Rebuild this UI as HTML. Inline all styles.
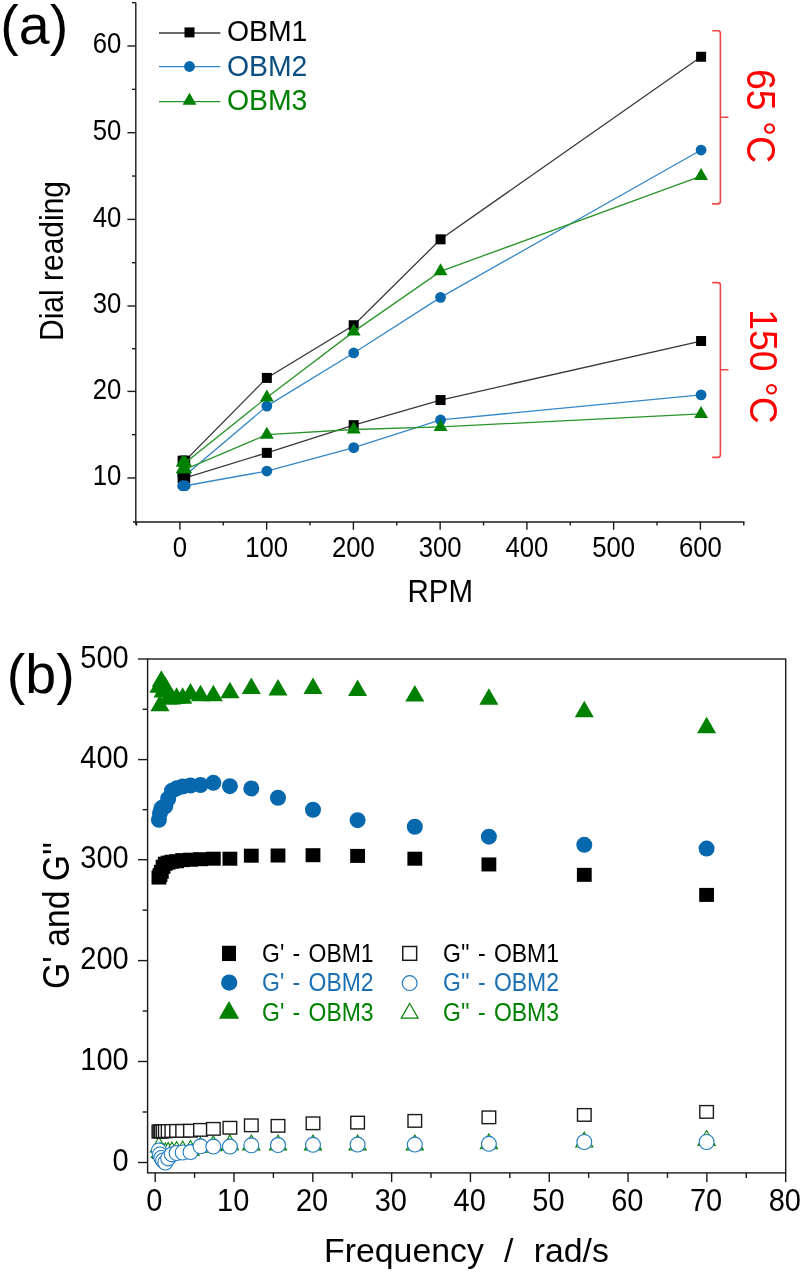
<!DOCTYPE html>
<html><head><meta charset="utf-8"><style>
html,body{margin:0;padding:0;background:#fff;}
body{width:802px;height:1272px;overflow:hidden;}
svg{display:block;font-family:"Liberation Sans", sans-serif;will-change:transform;}
</style></head><body>
<svg width="802" height="1272" viewBox="0 0 802 1272">
<rect width="802" height="1272" fill="#fff"/>
<line x1="135.80" y1="2.55" x2="135.80" y2="524.75" stroke="#1a1a1a" stroke-width="1.4"/>
<line x1="133.03" y1="522.00" x2="744.48" y2="522.00" stroke="#1a1a1a" stroke-width="1.4"/>
<line x1="127.40" y1="477.95" x2="135.80" y2="477.95" stroke="#1a1a1a" stroke-width="1.4"/>
<text transform="translate(121.40,485.15) scale(0.97,1.08)" font-size="26.5" fill="#000" text-anchor="end" >10</text>
<line x1="127.40" y1="391.40" x2="135.80" y2="391.40" stroke="#1a1a1a" stroke-width="1.4"/>
<text transform="translate(121.40,398.60) scale(0.97,1.08)" font-size="26.5" fill="#000" text-anchor="end" >20</text>
<line x1="127.40" y1="306.00" x2="135.80" y2="306.00" stroke="#1a1a1a" stroke-width="1.4"/>
<text transform="translate(121.40,313.20) scale(0.97,1.08)" font-size="26.5" fill="#000" text-anchor="end" >30</text>
<line x1="127.40" y1="219.40" x2="135.80" y2="219.40" stroke="#1a1a1a" stroke-width="1.4"/>
<text transform="translate(121.40,226.60) scale(0.97,1.08)" font-size="26.5" fill="#000" text-anchor="end" >40</text>
<line x1="127.40" y1="132.70" x2="135.80" y2="132.70" stroke="#1a1a1a" stroke-width="1.4"/>
<text transform="translate(121.40,139.90) scale(0.97,1.08)" font-size="26.5" fill="#000" text-anchor="end" >50</text>
<line x1="127.40" y1="46.00" x2="135.80" y2="46.00" stroke="#1a1a1a" stroke-width="1.4"/>
<text transform="translate(121.40,53.20) scale(0.97,1.08)" font-size="26.5" fill="#000" text-anchor="end" >60</text>
<line x1="132.00" y1="434.67" x2="135.80" y2="434.67" stroke="#1a1a1a" stroke-width="1.4"/>
<line x1="132.00" y1="348.70" x2="135.80" y2="348.70" stroke="#1a1a1a" stroke-width="1.4"/>
<line x1="132.00" y1="262.70" x2="135.80" y2="262.70" stroke="#1a1a1a" stroke-width="1.4"/>
<line x1="132.00" y1="176.05" x2="135.80" y2="176.05" stroke="#1a1a1a" stroke-width="1.4"/>
<line x1="132.00" y1="89.35" x2="135.80" y2="89.35" stroke="#1a1a1a" stroke-width="1.4"/>
<line x1="132.00" y1="2.65" x2="135.80" y2="2.65" stroke="#1a1a1a" stroke-width="1.4"/>
<line x1="179.90" y1="522.00" x2="179.90" y2="529.80" stroke="#1a1a1a" stroke-width="1.4"/>
<text transform="translate(179.90,557.20) scale(0.97,1.08)" font-size="26.5" fill="#000" text-anchor="middle" >0</text>
<line x1="266.65" y1="522.00" x2="266.65" y2="529.80" stroke="#1a1a1a" stroke-width="1.4"/>
<text transform="translate(266.65,557.20) scale(0.97,1.08)" font-size="26.5" fill="#000" text-anchor="middle" >100</text>
<line x1="353.40" y1="522.00" x2="353.40" y2="529.80" stroke="#1a1a1a" stroke-width="1.4"/>
<text transform="translate(353.40,557.20) scale(0.97,1.08)" font-size="26.5" fill="#000" text-anchor="middle" >200</text>
<line x1="440.15" y1="522.00" x2="440.15" y2="529.80" stroke="#1a1a1a" stroke-width="1.4"/>
<text transform="translate(440.15,557.20) scale(0.97,1.08)" font-size="26.5" fill="#000" text-anchor="middle" >300</text>
<line x1="526.90" y1="522.00" x2="526.90" y2="529.80" stroke="#1a1a1a" stroke-width="1.4"/>
<text transform="translate(526.90,557.20) scale(0.97,1.08)" font-size="26.5" fill="#000" text-anchor="middle" >400</text>
<line x1="613.65" y1="522.00" x2="613.65" y2="529.80" stroke="#1a1a1a" stroke-width="1.4"/>
<text transform="translate(613.65,557.20) scale(0.97,1.08)" font-size="26.5" fill="#000" text-anchor="middle" >500</text>
<line x1="700.40" y1="522.00" x2="700.40" y2="529.80" stroke="#1a1a1a" stroke-width="1.4"/>
<text transform="translate(700.40,557.20) scale(0.97,1.08)" font-size="26.5" fill="#000" text-anchor="middle" >600</text>
<line x1="136.53" y1="522.00" x2="136.53" y2="525.60" stroke="#1a1a1a" stroke-width="1.4"/>
<line x1="223.28" y1="522.00" x2="223.28" y2="525.60" stroke="#1a1a1a" stroke-width="1.4"/>
<line x1="310.02" y1="522.00" x2="310.02" y2="525.60" stroke="#1a1a1a" stroke-width="1.4"/>
<line x1="396.77" y1="522.00" x2="396.77" y2="525.60" stroke="#1a1a1a" stroke-width="1.4"/>
<line x1="483.52" y1="522.00" x2="483.52" y2="525.60" stroke="#1a1a1a" stroke-width="1.4"/>
<line x1="570.27" y1="522.00" x2="570.27" y2="525.60" stroke="#1a1a1a" stroke-width="1.4"/>
<line x1="657.02" y1="522.00" x2="657.02" y2="525.60" stroke="#1a1a1a" stroke-width="1.4"/>
<line x1="743.77" y1="522.00" x2="743.77" y2="525.60" stroke="#1a1a1a" stroke-width="1.4"/>
<text transform="translate(440.30,601.70) scale(1.0,1.07)" font-size="29.5" fill="#000" text-anchor="middle" >RPM</text>
<text transform="translate(62.80,261.00) rotate(-90) scale(1.0,1.08)" font-size="30" fill="#000" text-anchor="middle" >Dial reading</text>
<text transform="translate(0.30,43.90)" font-size="55.5" fill="#000" text-anchor="start" >(a)</text>
<polyline points="182.61,460.64 185.21,460.64 266.85,377.91 353.70,325.22 440.55,239.32 701.10,56.75" fill="none" stroke="#383838" stroke-width="1.3"/>
<rect x="177.61" y="455.64" width="10.00" height="10.00" fill="#000"/>
<rect x="180.21" y="455.64" width="10.00" height="10.00" fill="#000"/>
<rect x="261.85" y="372.91" width="10.00" height="10.00" fill="#000"/>
<rect x="348.70" y="320.22" width="10.00" height="10.00" fill="#000"/>
<rect x="435.55" y="234.32" width="10.00" height="10.00" fill="#000"/>
<rect x="696.10" y="51.75" width="10.00" height="10.00" fill="#000"/>
<polyline points="182.61,475.35 185.21,475.35 266.85,406.11 353.70,352.97 440.55,297.34 701.10,150.04" fill="none" stroke="#3587c6" stroke-width="1.3"/>
<circle cx="182.61" cy="475.35" r="5.40" fill="#0868ae"/>
<circle cx="185.21" cy="475.35" r="5.40" fill="#0868ae"/>
<circle cx="266.85" cy="406.11" r="5.40" fill="#0868ae"/>
<circle cx="353.70" cy="352.97" r="5.40" fill="#0868ae"/>
<circle cx="440.55" cy="297.34" r="5.40" fill="#0868ae"/>
<circle cx="701.10" cy="150.04" r="5.40" fill="#0868ae"/>
<polyline points="182.61,462.80 185.21,462.80 266.85,397.46 353.70,331.62 440.55,271.36 701.10,176.05" fill="none" stroke="#2a952a" stroke-width="1.3"/>
<polygon points="182.61,454.80 189.53,466.80 175.68,466.80" fill="#008000"/>
<polygon points="185.21,454.80 192.14,466.80 178.28,466.80" fill="#008000"/>
<polygon points="266.85,389.46 273.78,401.46 259.92,401.46" fill="#008000"/>
<polygon points="353.70,323.62 360.63,335.62 346.77,335.62" fill="#008000"/>
<polygon points="440.55,263.36 447.48,275.36 433.62,275.36" fill="#008000"/>
<polygon points="701.10,168.05 708.03,180.05 694.17,180.05" fill="#008000"/>
<polyline points="182.61,477.95 185.21,477.95 266.85,452.85 353.70,425.15 440.55,400.05 701.10,341.01" fill="none" stroke="#383838" stroke-width="1.3"/>
<rect x="177.61" y="472.95" width="10.00" height="10.00" fill="#000"/>
<rect x="180.21" y="472.95" width="10.00" height="10.00" fill="#000"/>
<rect x="261.85" y="447.85" width="10.00" height="10.00" fill="#000"/>
<rect x="348.70" y="420.15" width="10.00" height="10.00" fill="#000"/>
<rect x="435.55" y="395.05" width="10.00" height="10.00" fill="#000"/>
<rect x="696.10" y="336.01" width="10.00" height="10.00" fill="#000"/>
<polyline points="182.61,485.74 185.21,485.74 266.85,471.03 353.70,447.66 440.55,419.96 701.10,394.86" fill="none" stroke="#3587c6" stroke-width="1.3"/>
<circle cx="182.61" cy="485.74" r="5.40" fill="#0868ae"/>
<circle cx="185.21" cy="485.74" r="5.40" fill="#0868ae"/>
<circle cx="266.85" cy="471.03" r="5.40" fill="#0868ae"/>
<circle cx="353.70" cy="447.66" r="5.40" fill="#0868ae"/>
<circle cx="440.55" cy="419.96" r="5.40" fill="#0868ae"/>
<circle cx="701.10" cy="394.86" r="5.40" fill="#0868ae"/>
<polyline points="182.61,469.29 185.21,469.29 266.85,434.67 353.70,429.48 440.55,426.89 701.10,413.90" fill="none" stroke="#2a952a" stroke-width="1.3"/>
<polygon points="182.61,461.29 189.53,473.29 175.68,473.29" fill="#008000"/>
<polygon points="185.21,461.29 192.14,473.29 178.28,473.29" fill="#008000"/>
<polygon points="266.85,426.67 273.78,438.67 259.92,438.67" fill="#008000"/>
<polygon points="353.70,421.48 360.63,433.48 346.77,433.48" fill="#008000"/>
<polygon points="440.55,418.89 447.48,430.89 433.62,430.89" fill="#008000"/>
<polygon points="701.10,405.90 708.03,417.90 694.17,417.90" fill="#008000"/>
<line x1="159.00" y1="33.00" x2="220.30" y2="33.00" stroke="#383838" stroke-width="1.3"/>
<rect x="184.50" y="27.40" width="10.00" height="10.00" fill="#000"/>
<text transform="translate(226.90,41.30) scale(1.0,1.05)" font-size="28.4" fill="#000" text-anchor="start" >OBM1</text>
<line x1="159.00" y1="66.70" x2="220.30" y2="66.70" stroke="#3587c6" stroke-width="1.3"/>
<circle cx="189.50" cy="66.50" r="5.40" fill="#0868ae"/>
<text transform="translate(226.90,75.95) scale(1.0,1.05)" font-size="28.4" fill="#0b4f82" text-anchor="start" >OBM2</text>
<line x1="159.00" y1="101.60" x2="220.30" y2="101.60" stroke="#2a952a" stroke-width="1.3"/>
<polygon points="189.50,92.80 196.43,104.80 182.57,104.80" fill="#008000"/>
<text transform="translate(226.90,110.10) scale(1.0,1.05)" font-size="28.4" fill="#008000" text-anchor="start" >OBM3</text>
<path d="M 712.70 30.70 L 717.80 30.70 Q 720.40 30.70 720.40 33.30 L 720.40 201.30 Q 720.40 203.90 717.80 203.90 L 712.70 203.90 M 720.40 117.30 L 727.90 117.30" fill="none" stroke="#f04848" stroke-width="1.6" stroke-linecap="round"/>
<path d="M 712.70 282.60 L 717.80 282.60 Q 720.40 282.60 720.40 285.20 L 720.40 454.80 Q 720.40 457.40 717.80 457.40 L 712.70 457.40 M 720.40 369.80 L 727.90 369.80" fill="none" stroke="#f04848" stroke-width="1.6" stroke-linecap="round"/>
<text transform="translate(746.80,68.90) rotate(90) scale(1.0,1.06)" font-size="37.5" fill="#ff0000" text-anchor="start" >65 °C</text>
<text transform="translate(750.00,309.30) rotate(90) scale(1.0,1.06)" font-size="37.3" fill="#ff0000" text-anchor="start" >150 °C</text>
<rect x="147.60" y="659.00" width="638.10" height="513.90" fill="none" stroke="#1a1a1a" stroke-width="1.4"/>
<line x1="138.00" y1="1162.50" x2="147.60" y2="1162.50" stroke="#1a1a1a" stroke-width="1.4"/>
<text transform="translate(128.70,1171.00) scale(1.0,1.07)" font-size="29" fill="#000" text-anchor="end" >0</text>
<line x1="138.00" y1="1061.50" x2="147.60" y2="1061.50" stroke="#1a1a1a" stroke-width="1.4"/>
<text transform="translate(128.70,1070.00) scale(1.0,1.07)" font-size="29" fill="#000" text-anchor="end" >100</text>
<line x1="138.00" y1="960.60" x2="147.60" y2="960.60" stroke="#1a1a1a" stroke-width="1.4"/>
<text transform="translate(128.70,969.10) scale(1.0,1.07)" font-size="29" fill="#000" text-anchor="end" >200</text>
<line x1="138.00" y1="859.70" x2="147.60" y2="859.70" stroke="#1a1a1a" stroke-width="1.4"/>
<text transform="translate(128.70,868.20) scale(1.0,1.07)" font-size="29" fill="#000" text-anchor="end" >300</text>
<line x1="138.00" y1="759.60" x2="147.60" y2="759.60" stroke="#1a1a1a" stroke-width="1.4"/>
<text transform="translate(128.70,768.10) scale(1.0,1.07)" font-size="29" fill="#000" text-anchor="end" >400</text>
<line x1="138.00" y1="659.00" x2="147.60" y2="659.00" stroke="#1a1a1a" stroke-width="1.4"/>
<text transform="translate(128.70,667.50) scale(1.0,1.07)" font-size="29" fill="#000" text-anchor="end" >500</text>
<line x1="142.60" y1="1112.00" x2="147.60" y2="1112.00" stroke="#1a1a1a" stroke-width="1.4"/>
<line x1="142.60" y1="1011.05" x2="147.60" y2="1011.05" stroke="#1a1a1a" stroke-width="1.4"/>
<line x1="142.60" y1="910.15" x2="147.60" y2="910.15" stroke="#1a1a1a" stroke-width="1.4"/>
<line x1="142.60" y1="809.65" x2="147.60" y2="809.65" stroke="#1a1a1a" stroke-width="1.4"/>
<line x1="142.60" y1="709.30" x2="147.60" y2="709.30" stroke="#1a1a1a" stroke-width="1.4"/>
<line x1="155.20" y1="1172.90" x2="155.20" y2="1182.10" stroke="#1a1a1a" stroke-width="1.4"/>
<text transform="translate(154.40,1211.30) scale(1.0,1.055)" font-size="29" fill="#000" text-anchor="middle" >0</text>
<line x1="234.01" y1="1172.90" x2="234.01" y2="1182.10" stroke="#1a1a1a" stroke-width="1.4"/>
<text transform="translate(233.21,1211.30) scale(1.0,1.055)" font-size="29" fill="#000" text-anchor="middle" >10</text>
<line x1="312.82" y1="1172.90" x2="312.82" y2="1182.10" stroke="#1a1a1a" stroke-width="1.4"/>
<text transform="translate(312.02,1211.30) scale(1.0,1.055)" font-size="29" fill="#000" text-anchor="middle" >20</text>
<line x1="391.63" y1="1172.90" x2="391.63" y2="1182.10" stroke="#1a1a1a" stroke-width="1.4"/>
<text transform="translate(390.83,1211.30) scale(1.0,1.055)" font-size="29" fill="#000" text-anchor="middle" >30</text>
<line x1="470.44" y1="1172.90" x2="470.44" y2="1182.10" stroke="#1a1a1a" stroke-width="1.4"/>
<text transform="translate(469.64,1211.30) scale(1.0,1.055)" font-size="29" fill="#000" text-anchor="middle" >40</text>
<line x1="549.25" y1="1172.90" x2="549.25" y2="1182.10" stroke="#1a1a1a" stroke-width="1.4"/>
<text transform="translate(548.45,1211.30) scale(1.0,1.055)" font-size="29" fill="#000" text-anchor="middle" >50</text>
<line x1="628.06" y1="1172.90" x2="628.06" y2="1182.10" stroke="#1a1a1a" stroke-width="1.4"/>
<text transform="translate(627.26,1211.30) scale(1.0,1.055)" font-size="29" fill="#000" text-anchor="middle" >60</text>
<line x1="706.87" y1="1172.90" x2="706.87" y2="1182.10" stroke="#1a1a1a" stroke-width="1.4"/>
<text transform="translate(706.07,1211.30) scale(1.0,1.055)" font-size="29" fill="#000" text-anchor="middle" >70</text>
<line x1="785.68" y1="1172.90" x2="785.68" y2="1182.10" stroke="#1a1a1a" stroke-width="1.4"/>
<text transform="translate(784.88,1211.30) scale(1.0,1.055)" font-size="29" fill="#000" text-anchor="middle" >80</text>
<line x1="194.60" y1="1172.90" x2="194.60" y2="1177.90" stroke="#1a1a1a" stroke-width="1.4"/>
<line x1="273.41" y1="1172.90" x2="273.41" y2="1177.90" stroke="#1a1a1a" stroke-width="1.4"/>
<line x1="352.23" y1="1172.90" x2="352.23" y2="1177.90" stroke="#1a1a1a" stroke-width="1.4"/>
<line x1="431.04" y1="1172.90" x2="431.04" y2="1177.90" stroke="#1a1a1a" stroke-width="1.4"/>
<line x1="509.84" y1="1172.90" x2="509.84" y2="1177.90" stroke="#1a1a1a" stroke-width="1.4"/>
<line x1="588.65" y1="1172.90" x2="588.65" y2="1177.90" stroke="#1a1a1a" stroke-width="1.4"/>
<line x1="667.46" y1="1172.90" x2="667.46" y2="1177.90" stroke="#1a1a1a" stroke-width="1.4"/>
<line x1="746.28" y1="1172.90" x2="746.28" y2="1177.90" stroke="#1a1a1a" stroke-width="1.4"/>
<text transform="translate(324.10,1262.30)" font-size="33.8" fill="#000" text-anchor="start" word-spacing="0.75">Frequency&#160;&#160;/&#160;&#160;rad/s</text>
<text transform="translate(69.20,915.50) rotate(-90) scale(1.0,1.085)" font-size="33.75" fill="#000" text-anchor="middle" >G' and G''</text>
<text transform="translate(6.80,692.90)" font-size="55.5" fill="#000" text-anchor="start" >(b)</text>
<polygon points="158.92,1137.05 167.49,1151.90 150.34,1151.90" fill="#fff" stroke="#008000" stroke-width="1.1" stroke-linejoin="miter"/>
<polygon points="159.97,1142.50 168.55,1157.35 151.40,1157.35" fill="#fff" stroke="#008000" stroke-width="1.1" stroke-linejoin="miter"/>
<polygon points="161.33,1143.51 169.90,1158.36 152.75,1158.36" fill="#fff" stroke="#008000" stroke-width="1.1" stroke-linejoin="miter"/>
<polygon points="163.07,1143.51 171.64,1158.36 154.50,1158.36" fill="#fff" stroke="#008000" stroke-width="1.1" stroke-linejoin="miter"/>
<polygon points="165.30,1143.00 173.88,1157.86 156.73,1157.86" fill="#fff" stroke="#008000" stroke-width="1.1" stroke-linejoin="miter"/>
<polygon points="168.17,1142.50 176.75,1157.35 159.60,1157.35" fill="#fff" stroke="#008000" stroke-width="1.1" stroke-linejoin="miter"/>
<polygon points="171.86,1141.99 180.43,1156.85 163.29,1156.85" fill="#fff" stroke="#008000" stroke-width="1.1" stroke-linejoin="miter"/>
<polygon points="176.59,1141.49 185.16,1156.34 168.02,1156.34" fill="#fff" stroke="#008000" stroke-width="1.1" stroke-linejoin="miter"/>
<polygon points="182.67,1140.98 191.24,1155.84 174.09,1155.84" fill="#fff" stroke="#008000" stroke-width="1.1" stroke-linejoin="miter"/>
<polygon points="190.47,1140.48 199.04,1155.33 181.89,1155.33" fill="#fff" stroke="#008000" stroke-width="1.1" stroke-linejoin="miter"/>
<polygon points="200.48,1137.45 209.06,1152.30 191.91,1152.30" fill="#fff" stroke="#008000" stroke-width="1.1" stroke-linejoin="miter"/>
<polygon points="213.35,1135.93 221.92,1150.79 204.77,1150.79" fill="#fff" stroke="#008000" stroke-width="1.1" stroke-linejoin="miter"/>
<polygon points="229.90,1134.92 238.47,1149.78 221.33,1149.78" fill="#fff" stroke="#008000" stroke-width="1.1" stroke-linejoin="miter"/>
<polygon points="251.30,1135.03 259.87,1149.88 242.73,1149.88" fill="#fff" stroke="#008000" stroke-width="1.1" stroke-linejoin="miter"/>
<polygon points="278.00,1135.03 286.57,1149.88 269.43,1149.88" fill="#fff" stroke="#008000" stroke-width="1.1" stroke-linejoin="miter"/>
<polygon points="313.00,1135.03 321.57,1149.88 304.43,1149.88" fill="#fff" stroke="#008000" stroke-width="1.1" stroke-linejoin="miter"/>
<polygon points="357.60,1135.03 366.17,1149.88 349.03,1149.88" fill="#fff" stroke="#008000" stroke-width="1.1" stroke-linejoin="miter"/>
<polygon points="414.80,1135.03 423.37,1149.88 406.23,1149.88" fill="#fff" stroke="#008000" stroke-width="1.1" stroke-linejoin="miter"/>
<polygon points="488.90,1133.91 497.47,1148.77 480.33,1148.77" fill="#fff" stroke="#008000" stroke-width="1.1" stroke-linejoin="miter"/>
<polygon points="584.30,1132.20 592.87,1147.05 575.73,1147.05" fill="#fff" stroke="#008000" stroke-width="1.1" stroke-linejoin="miter"/>
<polygon points="706.60,1130.48 715.17,1145.33 698.03,1145.33" fill="#fff" stroke="#008000" stroke-width="1.1" stroke-linejoin="miter"/>
<circle cx="158.92" cy="1150.38" r="7.45" fill="#fff" stroke="#1f7bc0" stroke-width="1.1"/>
<circle cx="159.97" cy="1154.42" r="7.45" fill="#fff" stroke="#1f7bc0" stroke-width="1.1"/>
<circle cx="161.33" cy="1157.95" r="7.45" fill="#fff" stroke="#1f7bc0" stroke-width="1.1"/>
<circle cx="163.07" cy="1160.48" r="7.45" fill="#fff" stroke="#1f7bc0" stroke-width="1.1"/>
<circle cx="165.30" cy="1162.50" r="7.45" fill="#fff" stroke="#1f7bc0" stroke-width="1.1"/>
<circle cx="168.17" cy="1158.46" r="7.45" fill="#fff" stroke="#1f7bc0" stroke-width="1.1"/>
<circle cx="171.86" cy="1154.42" r="7.45" fill="#fff" stroke="#1f7bc0" stroke-width="1.1"/>
<circle cx="176.59" cy="1153.01" r="7.45" fill="#fff" stroke="#1f7bc0" stroke-width="1.1"/>
<circle cx="182.67" cy="1152.50" r="7.45" fill="#fff" stroke="#1f7bc0" stroke-width="1.1"/>
<circle cx="190.47" cy="1152.10" r="7.45" fill="#fff" stroke="#1f7bc0" stroke-width="1.1"/>
<circle cx="200.48" cy="1146.34" r="7.45" fill="#fff" stroke="#1f7bc0" stroke-width="1.1"/>
<circle cx="213.35" cy="1146.54" r="7.45" fill="#fff" stroke="#1f7bc0" stroke-width="1.1"/>
<circle cx="229.90" cy="1146.54" r="7.45" fill="#fff" stroke="#1f7bc0" stroke-width="1.1"/>
<circle cx="251.30" cy="1145.33" r="7.45" fill="#fff" stroke="#1f7bc0" stroke-width="1.1"/>
<circle cx="278.00" cy="1145.03" r="7.45" fill="#fff" stroke="#1f7bc0" stroke-width="1.1"/>
<circle cx="313.00" cy="1144.83" r="7.45" fill="#fff" stroke="#1f7bc0" stroke-width="1.1"/>
<circle cx="357.60" cy="1144.62" r="7.45" fill="#fff" stroke="#1f7bc0" stroke-width="1.1"/>
<circle cx="414.80" cy="1144.62" r="7.45" fill="#fff" stroke="#1f7bc0" stroke-width="1.1"/>
<circle cx="488.90" cy="1143.82" r="7.45" fill="#fff" stroke="#1f7bc0" stroke-width="1.1"/>
<circle cx="584.30" cy="1142.00" r="7.45" fill="#fff" stroke="#1f7bc0" stroke-width="1.1"/>
<circle cx="706.60" cy="1142.00" r="7.45" fill="#fff" stroke="#1f7bc0" stroke-width="1.1"/>
<rect x="152.12" y="1125.19" width="13.60" height="12.60" fill="#fff" stroke="#1a1a1a" stroke-width="1.4"/>
<rect x="153.17" y="1125.19" width="13.60" height="12.60" fill="#fff" stroke="#1a1a1a" stroke-width="1.4"/>
<rect x="154.53" y="1125.09" width="13.60" height="12.60" fill="#fff" stroke="#1a1a1a" stroke-width="1.4"/>
<rect x="156.27" y="1124.99" width="13.60" height="12.60" fill="#fff" stroke="#1a1a1a" stroke-width="1.4"/>
<rect x="158.50" y="1124.89" width="13.60" height="12.60" fill="#fff" stroke="#1a1a1a" stroke-width="1.4"/>
<rect x="161.37" y="1124.79" width="13.60" height="12.60" fill="#fff" stroke="#1a1a1a" stroke-width="1.4"/>
<rect x="165.06" y="1124.69" width="13.60" height="12.60" fill="#fff" stroke="#1a1a1a" stroke-width="1.4"/>
<rect x="169.79" y="1124.59" width="13.60" height="12.60" fill="#fff" stroke="#1a1a1a" stroke-width="1.4"/>
<rect x="175.87" y="1124.59" width="13.60" height="12.60" fill="#fff" stroke="#1a1a1a" stroke-width="1.4"/>
<rect x="183.67" y="1124.38" width="13.60" height="12.60" fill="#fff" stroke="#1a1a1a" stroke-width="1.4"/>
<rect x="193.68" y="1123.58" width="13.60" height="12.60" fill="#fff" stroke="#1a1a1a" stroke-width="1.4"/>
<rect x="206.55" y="1122.57" width="13.60" height="12.60" fill="#fff" stroke="#1a1a1a" stroke-width="1.4"/>
<rect x="223.10" y="1121.46" width="13.60" height="12.60" fill="#fff" stroke="#1a1a1a" stroke-width="1.4"/>
<rect x="244.50" y="1119.03" width="13.60" height="12.60" fill="#fff" stroke="#1a1a1a" stroke-width="1.4"/>
<rect x="271.20" y="1119.54" width="13.60" height="12.60" fill="#fff" stroke="#1a1a1a" stroke-width="1.4"/>
<rect x="306.20" y="1117.01" width="13.60" height="12.60" fill="#fff" stroke="#1a1a1a" stroke-width="1.4"/>
<rect x="350.80" y="1116.31" width="13.60" height="12.60" fill="#fff" stroke="#1a1a1a" stroke-width="1.4"/>
<rect x="408.00" y="1114.59" width="13.60" height="12.60" fill="#fff" stroke="#1a1a1a" stroke-width="1.4"/>
<rect x="482.10" y="1111.05" width="13.60" height="12.60" fill="#fff" stroke="#1a1a1a" stroke-width="1.4"/>
<rect x="577.50" y="1108.63" width="13.60" height="12.60" fill="#fff" stroke="#1a1a1a" stroke-width="1.4"/>
<rect x="699.80" y="1105.60" width="13.60" height="12.60" fill="#fff" stroke="#1a1a1a" stroke-width="1.4"/>
<rect x="151.52" y="870.56" width="14.80" height="14.00" fill="#000"/>
<rect x="152.57" y="868.14" width="14.80" height="14.00" fill="#000"/>
<rect x="153.93" y="864.81" width="14.80" height="14.00" fill="#000"/>
<rect x="155.67" y="859.76" width="14.80" height="14.00" fill="#000"/>
<rect x="157.90" y="856.74" width="14.80" height="14.00" fill="#000"/>
<rect x="160.77" y="855.63" width="14.80" height="14.00" fill="#000"/>
<rect x="164.46" y="854.72" width="14.80" height="14.00" fill="#000"/>
<rect x="169.19" y="854.21" width="14.80" height="14.00" fill="#000"/>
<rect x="175.27" y="853.10" width="14.80" height="14.00" fill="#000"/>
<rect x="183.07" y="852.70" width="14.80" height="14.00" fill="#000"/>
<rect x="193.08" y="852.20" width="14.80" height="14.00" fill="#000"/>
<rect x="205.95" y="851.70" width="14.80" height="14.00" fill="#000"/>
<rect x="222.50" y="851.70" width="14.80" height="14.00" fill="#000"/>
<rect x="243.90" y="848.70" width="14.80" height="14.00" fill="#000"/>
<rect x="270.60" y="848.50" width="14.80" height="14.00" fill="#000"/>
<rect x="305.60" y="848.20" width="14.80" height="14.00" fill="#000"/>
<rect x="350.20" y="848.90" width="14.80" height="14.00" fill="#000"/>
<rect x="407.40" y="851.70" width="14.80" height="14.00" fill="#000"/>
<rect x="481.50" y="857.44" width="14.80" height="14.00" fill="#000"/>
<rect x="576.90" y="867.84" width="14.80" height="14.00" fill="#000"/>
<rect x="699.20" y="887.91" width="14.80" height="14.00" fill="#000"/>
<circle cx="158.92" cy="819.86" r="8.00" fill="#0868ae"/>
<circle cx="159.97" cy="813.35" r="8.00" fill="#0868ae"/>
<circle cx="161.33" cy="808.35" r="8.00" fill="#0868ae"/>
<circle cx="163.07" cy="807.35" r="8.00" fill="#0868ae"/>
<circle cx="165.30" cy="806.35" r="8.00" fill="#0868ae"/>
<circle cx="168.17" cy="798.74" r="8.00" fill="#0868ae"/>
<circle cx="171.86" cy="790.83" r="8.00" fill="#0868ae"/>
<circle cx="176.59" cy="788.33" r="8.00" fill="#0868ae"/>
<circle cx="182.67" cy="786.53" r="8.00" fill="#0868ae"/>
<circle cx="190.47" cy="785.53" r="8.00" fill="#0868ae"/>
<circle cx="200.48" cy="785.03" r="8.00" fill="#0868ae"/>
<circle cx="213.35" cy="782.82" r="8.00" fill="#0868ae"/>
<circle cx="229.90" cy="786.13" r="8.00" fill="#0868ae"/>
<circle cx="251.30" cy="788.43" r="8.00" fill="#0868ae"/>
<circle cx="278.00" cy="797.74" r="8.00" fill="#0868ae"/>
<circle cx="313.00" cy="809.75" r="8.00" fill="#0868ae"/>
<circle cx="357.60" cy="820.16" r="8.00" fill="#0868ae"/>
<circle cx="414.80" cy="826.77" r="8.00" fill="#0868ae"/>
<circle cx="488.90" cy="836.68" r="8.00" fill="#0868ae"/>
<circle cx="584.30" cy="844.79" r="8.00" fill="#0868ae"/>
<circle cx="706.60" cy="848.59" r="8.00" fill="#0868ae"/>
<polygon points="158.92,676.37 168.44,692.87 149.39,692.87" fill="#008000"/>
<polygon points="159.97,694.68 169.50,711.18 150.45,711.18" fill="#008000"/>
<polygon points="161.33,670.23 170.85,686.73 151.80,686.73" fill="#008000"/>
<polygon points="163.07,680.90 172.60,697.40 153.54,697.40" fill="#008000"/>
<polygon points="165.30,676.47 174.83,692.97 155.78,692.97" fill="#008000"/>
<polygon points="168.17,687.94 177.70,704.44 158.65,704.44" fill="#008000"/>
<polygon points="171.86,687.94 181.39,704.44 162.33,704.44" fill="#008000"/>
<polygon points="176.59,687.13 186.12,703.63 167.06,703.63" fill="#008000"/>
<polygon points="182.67,687.13 192.19,703.63 173.14,703.63" fill="#008000"/>
<polygon points="190.47,683.11 199.99,699.61 180.94,699.61" fill="#008000"/>
<polygon points="200.48,684.72 210.01,701.22 190.96,701.22" fill="#008000"/>
<polygon points="213.35,684.72 222.87,701.22 203.82,701.22" fill="#008000"/>
<polygon points="229.90,681.80 239.43,698.30 220.37,698.30" fill="#008000"/>
<polygon points="251.30,677.38 260.83,693.88 241.77,693.88" fill="#008000"/>
<polygon points="278.00,678.98 287.53,695.48 268.47,695.48" fill="#008000"/>
<polygon points="313.00,677.38 322.53,693.88 303.47,693.88" fill="#008000"/>
<polygon points="357.60,679.49 367.13,695.99 348.07,695.99" fill="#008000"/>
<polygon points="414.80,684.92 424.33,701.42 405.27,701.42" fill="#008000"/>
<polygon points="488.90,688.34 498.43,704.84 479.37,704.84" fill="#008000"/>
<polygon points="584.30,700.82 593.83,717.32 574.77,717.32" fill="#008000"/>
<polygon points="706.60,716.71 716.13,733.21 697.07,733.21" fill="#008000"/>
<rect x="222.00" y="945.75" width="14.00" height="15.30" fill="#000"/>
<circle cx="229.20" cy="982.60" r="8.15" fill="#0868ae"/>
<polygon points="229.00,1001.10 239.13,1018.65 218.87,1018.65" fill="#008000"/>
<rect x="402.75" y="946.50" width="13.90" height="13.80" fill="#fff" stroke="#1a1a1a" stroke-width="1.5"/>
<circle cx="409.70" cy="983.10" r="7.40" fill="#fff" stroke="#1f7bc0" stroke-width="1.2"/>
<polygon points="409.70,1003.50 418.10,1018.05 401.30,1018.05" fill="#fff" stroke="#008000" stroke-width="1.2" stroke-linejoin="miter"/>
<text transform="translate(262.00,961.60) scale(1.0,1.085)" font-size="23" fill="#000" text-anchor="start" word-spacing="1.9">G' - OBM1</text>
<text transform="translate(443.00,961.60) scale(1.0,1.085)" font-size="23" fill="#000" text-anchor="start" word-spacing="1.9">G'' - OBM1</text>
<text transform="translate(262.00,991.30) scale(1.0,1.085)" font-size="23" fill="#1c70b4" text-anchor="start" word-spacing="1.9">G' - OBM2</text>
<text transform="translate(443.00,991.30) scale(1.0,1.085)" font-size="23" fill="#1c70b4" text-anchor="start" word-spacing="1.9">G'' - OBM2</text>
<text transform="translate(262.00,1021.00) scale(1.0,1.085)" font-size="23" fill="#008000" text-anchor="start" word-spacing="1.9">G' - OBM3</text>
<text transform="translate(443.00,1021.00) scale(1.0,1.085)" font-size="23" fill="#008000" text-anchor="start" word-spacing="1.9">G'' - OBM3</text>
</svg>
</body></html>
